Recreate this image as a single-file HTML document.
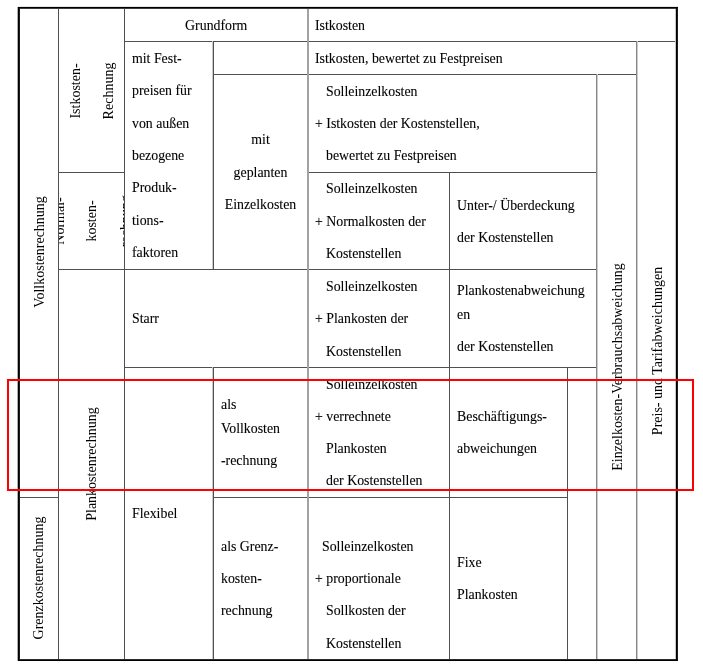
<!DOCTYPE html>
<html lang="de"><head><meta charset="utf-8"><title>Kostenrechnungssysteme</title>
<style>
html,body{margin:0;padding:0;background:#fff;}
body{width:703px;height:665px;position:relative;overflow:hidden;font-family:"Liberation Serif","DejaVu Serif",serif;font-size:13.85px;color:#000;-webkit-text-stroke:0.1px #000;}
.h,.v{position:absolute;background:#505050;}
.h{height:1px;}
.v{width:1px;}
.v2{width:2px;background:#a2a2a2;}
.v3{background:#cbcbcb;}
.v4{background:#868686;}
.t{position:absolute;white-space:nowrap;line-height:20px;height:20px;}
.c{position:absolute;white-space:nowrap;line-height:20px;height:20px;transform:translateX(-50%);}
.r{position:absolute;white-space:nowrap;font-size:14px;-webkit-text-stroke:0;line-height:20px;height:20px;transform-origin:0 0;transform:rotate(-90deg);}
.b{position:absolute;}
.red{position:absolute;left:7px;top:379px;width:683px;height:108px;border:2px solid #ff0000;}
.clip{position:absolute;overflow:hidden;}
#w{position:absolute;left:0;top:0;width:703px;height:665px;will-change:transform;}
</style></head><body><div id="w">
<div class="h" style="left:124px;top:41px;width:552px"></div>
<div class="h" style="left:213px;top:74px;width:424px"></div>
<div class="h" style="left:58px;top:172px;width:66px"></div>
<div class="h" style="left:308px;top:172px;width:289px"></div>
<div class="h" style="left:58px;top:269px;width:539px"></div>
<div class="h" style="left:124px;top:367px;width:473px"></div>
<div class="h" style="left:19px;top:497px;width:39px"></div>
<div class="h" style="left:213px;top:497px;width:355px"></div>
<div class="v" style="left:58px;top:8px;height:651px"></div>
<div class="v" style="left:124px;top:8px;height:651px"></div>
<div class="v" style="left:213px;top:41px;height:228px"></div>
<div class="v" style="left:213px;top:367px;height:292px"></div>
<div class="v v3" style="left:212px;top:41px;height:228px"></div>
<div class="v v3" style="left:212px;top:367px;height:292px"></div>
<div class="v v2" style="left:307px;top:8px;height:651px"></div>
<div class="v" style="left:449px;top:172px;height:487px"></div>
<div class="v" style="left:567px;top:367px;height:292px"></div>
<div class="v v4" style="left:596px;top:74px;height:585px"></div>
<div class="v v3" style="left:597px;top:74px;height:585px"></div>
<div class="v v4" style="left:636px;top:41px;height:618px"></div>
<div class="v v3" style="left:637px;top:41px;height:618px"></div>
<div class="b" style="left:18px;top:6px;width:660px;height:1px;background:#e6e6e6"></div>
<div class="b" style="left:17px;top:7px;width:1px;height:654px;background:#b0b0b0"></div>
<div class="b" style="left:675px;top:9px;width:1px;height:650px;background:#c8c8c8"></div>
<div class="b" style="left:18px;top:8px;width:660px;height:1px;background:#3c3c3c"></div>
<div class="b" style="left:18px;top:659px;width:660px;height:1px;background:#2c2c2c"></div>
<div class="b" style="left:19px;top:7px;width:1px;height:654px;background:#1c1c1c"></div>
<div class="b" style="left:677px;top:7px;width:1px;height:654px;background:#1c1c1c"></div>
<div class="b" style="left:18px;top:7px;width:660px;height:1px;background:#000"></div>
<div class="b" style="left:18px;top:660px;width:660px;height:1px;background:#000"></div>
<div class="b" style="left:18px;top:7px;width:1px;height:654px;background:#000"></div>
<div class="b" style="left:676px;top:7px;width:1px;height:654px;background:#000"></div>
<div class="t" style="left:315px;top:16.00px">Istkosten</div>
<div class="t" style="left:315px;top:49.00px">Istkosten, bewertet zu Festpreisen</div>
<div class="t" style="left:132px;top:49.00px">mit Fest-</div>
<div class="t" style="left:132px;top:81.00px">preisen für</div>
<div class="t" style="left:132px;top:114.00px">von außen</div>
<div class="t" style="left:132px;top:146.00px">bezogene</div>
<div class="t" style="left:132px;top:178.00px">Produk-</div>
<div class="t" style="left:132px;top:211.00px">tions-</div>
<div class="t" style="left:132px;top:243.00px">faktoren</div>
<div class="t" style="left:326px;top:82.00px">Solleinzelkosten</div>
<div class="t" style="left:315px;top:114.00px">+ Istkosten der Kostenstellen,</div>
<div class="t" style="left:326px;top:146.00px">bewertet zu Festpreisen</div>
<div class="t" style="left:326px;top:179.00px">Solleinzelkosten</div>
<div class="t" style="left:315px;top:212.00px">+ Normalkosten der</div>
<div class="t" style="left:326px;top:244.00px">Kostenstellen</div>
<div class="t" style="left:457px;top:196.00px">Unter-/ Überdeckung</div>
<div class="t" style="left:457px;top:228.00px">der Kostenstellen</div>
<div class="t" style="left:326px;top:277.00px">Solleinzelkosten</div>
<div class="t" style="left:315px;top:309.00px">+ Plankosten der</div>
<div class="t" style="left:326px;top:342.00px">Kostenstellen</div>
<div class="t" style="left:457px;top:281.00px">Plankostenabweichung</div>
<div class="t" style="left:457px;top:305.00px">en</div>
<div class="t" style="left:457px;top:337.00px">der Kostenstellen</div>
<div class="t" style="left:132px;top:309.00px">Starr</div>
<div class="t" style="left:326px;top:375.00px">Solleinzelkosten</div>
<div class="t" style="left:315px;top:407.00px">+ verrechnete</div>
<div class="t" style="left:326px;top:439.00px">Plankosten</div>
<div class="t" style="left:326px;top:471.00px">der Kostenstellen</div>
<div class="t" style="left:221px;top:395.00px">als</div>
<div class="t" style="left:221px;top:419.00px">Vollkosten</div>
<div class="t" style="left:221px;top:451.00px">-rechnung</div>
<div class="t" style="left:457px;top:407.00px">Beschäftigungs-</div>
<div class="t" style="left:457px;top:439.00px">abweichungen</div>
<div class="t" style="left:132px;top:504.00px">Flexibel</div>
<div class="t" style="left:221px;top:537.00px">als Grenz-</div>
<div class="t" style="left:221px;top:569.00px">kosten-</div>
<div class="t" style="left:221px;top:601.00px">rechnung</div>
<div class="t" style="left:322px;top:537.00px">Solleinzelkosten</div>
<div class="t" style="left:315px;top:569.00px">+ proportionale</div>
<div class="t" style="left:326px;top:601.00px">Sollkosten der</div>
<div class="t" style="left:326px;top:634.00px">Kostenstellen</div>
<div class="t" style="left:457px;top:553.00px">Fixe</div>
<div class="t" style="left:457px;top:585.00px">Plankosten</div>
<div class="c" style="left:216.25px;top:16.00px">Grundform</div>
<div class="c" style="left:260.5px;top:130.00px">mit</div>
<div class="c" style="left:260.5px;top:163.00px">geplanten</div>
<div class="c" style="left:260.5px;top:195.00px">Einzelkosten</div>
<div class="r" style="left:29.50px;top:252px;transform:rotate(-90deg) translateX(-50%)">Vollkostenrechnung</div>
<div class="r" style="left:66.40px;top:90.6px;transform:rotate(-90deg) translateX(-50%)">Istkosten-</div>
<div class="r" style="left:99.00px;top:90.7px;transform:rotate(-90deg) translateX(-50%)">Rechnung</div>
<div class="r" style="left:82.00px;top:464.2px;transform:rotate(-90deg) translateX(-50%)">Plankostenrechnung</div>
<div class="r" style="left:29.20px;top:578px;transform:rotate(-90deg) translateX(-50%)">Grenzkostenrechnung</div>
<div class="r" style="left:608.30px;top:366.8px;transform:rotate(-90deg) translateX(-50%)">Einzelkosten-Verbrauchsabweichung</div>
<div class="r" style="left:648.10px;top:351px;transform:rotate(-90deg) translateX(-50%)">Preis- und Tarifabweichungen</div>
<div class="clip" style="left:59px;top:173px;width:65px;height:96px">
<div class="r" style="left:-9.00px;top:48px;transform:rotate(-90deg) translateX(-50%)">Normal-</div>
<div class="r" style="left:23.40px;top:47.5px;transform:rotate(-90deg) translateX(-50%)">kosten-</div>
<div class="r" style="left:57.00px;top:48px;transform:rotate(-90deg) translateX(-50%)">rechnung</div>
</div>
<div class="red"></div>
</div></body></html>
